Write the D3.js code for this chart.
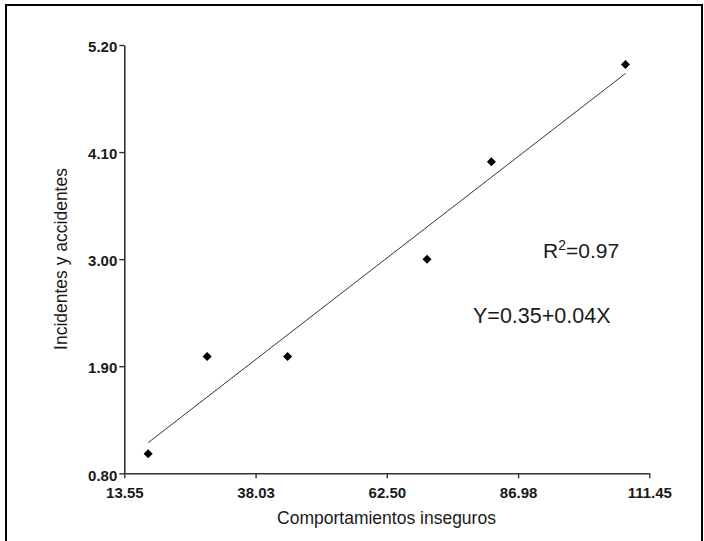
<!DOCTYPE html>
<html>
<head>
  <meta charset="utf-8">
  <title>Comportamientos inseguros vs incidentes</title>
  <script src="https://cdn.jsdelivr.net/npm/d3@7"></script>
  <style>
    body { margin: 0; background: #fff; }
    text { font-family: Arial, "Liberation Sans", sans-serif; }
  </style>
</head>
<body>
<div id="chart"></div>
<script>
  // data
  var comportamientos = [18, 29, 44, 70, 82, 107];
  var incidentes = [1.0, 2.0, 2.0, 3.0, 4.0, 5.0];
  var xTicks = [13.55, 38.03, 62.50, 86.98, 111.45];
  var yTicks = [0.80, 1.90, 3.00, 4.10, 5.20];
  var r2Label = "0.97";
  var eqLabel = "Y=0.35+0.04X";

  var W = 704, H = 541;

  var svg = d3.select("#chart").append("svg")
    .attr("width", W)
    .attr("height", H);

  // frame round the figure
  svg.append("rect")
    .attr("x", 6).attr("y", 5)
    .attr("width", 696).attr("height", 560)
    .attr("fill", "none")
    .attr("stroke", "#000")
    .attr("stroke-width", 2);

  var x = d3.scaleLinear().domain([13.55, 111.45]).range([124.3, 649.3]);
  var y = d3.scaleLinear().domain([0.80, 5.20]).range([473.3, 45]);

  var xAxis = d3.axisBottom(x).tickValues(xTicks).tickFormat(d3.format(".2f"))
    .tickSize(5).tickSizeOuter(0).tickPadding(9);
  var yAxis = d3.axisLeft(y).tickValues(yTicks).tickFormat(d3.format(".2f"))
    .tickSize(5).tickSizeOuter(0).tickPadding(2);

  var gx = svg.append("g").attr("transform", "translate(0," + y(0.80) + ")").call(xAxis);
  var gy = svg.append("g").attr("transform", "translate(" + x(13.55) + ",0)").call(yAxis);

  [gx, gy].forEach(function(g) {
    g.select(".domain").attr("stroke", "#333").attr("stroke-width", 1.6);
    g.selectAll(".tick line").attr("stroke", "#333").attr("stroke-width", 1.4);
    g.selectAll(".tick text")
      .attr("fill", "#1a1a1a")
      .style("font-size", "15px")
      .style("font-weight", "bold")
      .style("font-family", "Arial, 'Liberation Sans', sans-serif");
  });
  gy.selectAll(".tick text").attr("dy", "0.45em");

  // least squares fit of the points
  var mx = d3.mean(comportamientos), my = d3.mean(incidentes);
  var sxy = d3.sum(comportamientos, function(d, i) { return (d - mx) * (incidentes[i] - my); });
  var sxx = d3.sum(comportamientos, function(d) { return (d - mx) * (d - mx); });
  var b = sxy / sxx, a = my - b * mx;
  var ends = d3.extent(comportamientos);

  var line = d3.line()
    .x(function(d) { return x(d); })
    .y(function(d) { return y(a + b * d); });

  svg.append("path")
    .attr("d", line(ends))
    .attr("fill", "none")
    .attr("stroke", "#333")
    .attr("stroke-width", 1);

  var pts = comportamientos.map(function(d, i) { return { x: d, y: incidentes[i] }; });

  svg.selectAll(".pt")
    .data(pts)
    .enter().append("path")
    .attr("class", "pt")
    .attr("transform", function(d) { return "translate(" + x(d.x) + "," + y(d.y) + ")"; })
    .attr("d", d3.symbol().type(d3.symbolDiamond2).size(52))
    .attr("fill", "#000");

  // axis titles
  svg.append("text")
    .attr("x", 386.5).attr("y", 524)
    .attr("text-anchor", "middle")
    .style("font-size", "17.5px")
    .attr("fill", "#1a1a1a")
    .text("Comportamientos inseguros");

  svg.append("text")
    .attr("transform", "translate(67,259) rotate(-90)")
    .attr("text-anchor", "middle")
    .style("font-size", "17.5px")
    .attr("fill", "#1a1a1a")
    .text("Incidentes y accidentes");

  // annotations
  var r2 = svg.append("text")
    .attr("x", 543).attr("y", 258)
    .style("font-size", "21px")
    .attr("fill", "#1a1a1a");
  r2.append("tspan").text("R");
  r2.append("tspan").attr("dy", -8).style("font-size", "14px").text("2");
  r2.append("tspan").attr("dy", 8).text("=" + r2Label);

  svg.append("text")
    .attr("x", 473).attr("y", 323)
    .style("font-size", "21.5px")
    .attr("fill", "#1a1a1a")
    .text(eqLabel);
</script>
</body>
</html>
